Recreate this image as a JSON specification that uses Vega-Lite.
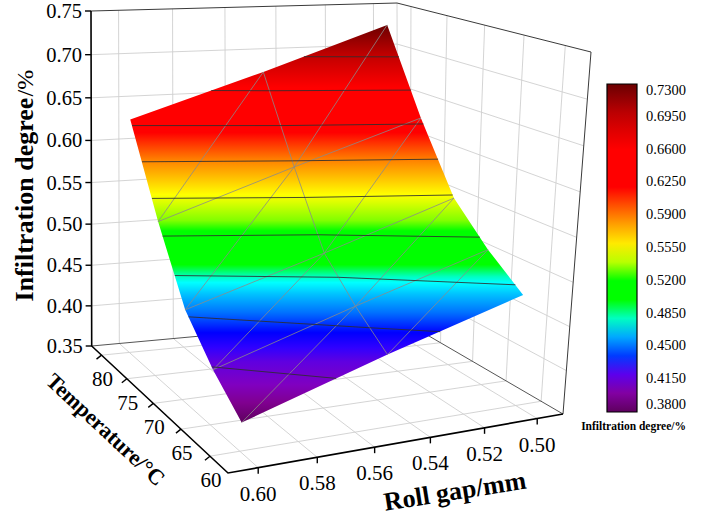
{
  "$schema": "https://vega.github.io/schema/vega-lite/v6.json",
  "width": 706,
  "height": 522,
  "padding": 0,
  "autosize": {"type": "none"},
  "background": "white",
  "config": {
    "font": "Liberation Serif",
    "view": {"stroke": null},
    "text": {"font": "Liberation Serif", "color": "#000"},
    "legend": {"labelFont": "Liberation Serif", "labelFontSize": 14.5, "labelColor": "#000000", "titleFont": "Liberation Serif"}
  },
  "data": {
    "values": [
      {"kind": "surf", "g": 0.6, "t": 60, "z": 0.382},
      {"kind": "surf", "g": 0.6, "t": 65, "z": 0.413},
      {"kind": "surf", "g": 0.6, "t": 70, "z": 0.455},
      {"kind": "surf", "g": 0.6, "t": 75, "z": 0.533},
      {"kind": "surf", "g": 0.6, "t": 80, "z": 0.631},
      {"kind": "surf", "g": 0.55, "t": 60, "z": 0.433},
      {"kind": "surf", "g": 0.55, "t": 65, "z": 0.464},
      {"kind": "surf", "g": 0.55, "t": 70, "z": 0.503},
      {"kind": "surf", "g": 0.55, "t": 75, "z": 0.584},
      {"kind": "surf", "g": 0.55, "t": 80, "z": 0.679},
      {"kind": "surf", "g": 0.5, "t": 60, "z": 0.478},
      {"kind": "surf", "g": 0.5, "t": 65, "z": 0.51},
      {"kind": "surf", "g": 0.5, "t": 70, "z": 0.552},
      {"kind": "surf", "g": 0.5, "t": 75, "z": 0.631},
      {"kind": "surf", "g": 0.5, "t": 80, "z": 0.729},

      {"kind": "cont", "g": 0.534, "t": 80, "z": 0.695},
      {"kind": "cont", "g": 0.5, "t": 78.27, "z": 0.695},
      {"kind": "cont", "g": 0.57, "t": 80, "z": 0.66},
      {"kind": "cont", "g": 0.55, "t": 79.0, "z": 0.66},
      {"kind": "cont", "g": 0.5, "t": 76.48, "z": 0.66},
      {"kind": "cont", "g": 0.6, "t": 79.69, "z": 0.625},
      {"kind": "cont", "g": 0.55, "t": 77.16, "z": 0.625},
      {"kind": "cont", "g": 0.5, "t": 74.62, "z": 0.625},
      {"kind": "cont", "g": 0.6, "t": 77.91, "z": 0.59},
      {"kind": "cont", "g": 0.55, "t": 75.32, "z": 0.59},
      {"kind": "cont", "g": 0.5, "t": 72.41, "z": 0.59},
      {"kind": "cont", "g": 0.6, "t": 76.12, "z": 0.555},
      {"kind": "cont", "g": 0.55, "t": 73.21, "z": 0.555},
      {"kind": "cont", "g": 0.5, "t": 70.19, "z": 0.555},
      {"kind": "cont", "g": 0.6, "t": 74.17, "z": 0.52},
      {"kind": "cont", "g": 0.55, "t": 71.05, "z": 0.52},
      {"kind": "cont", "g": 0.5, "t": 66.19, "z": 0.52},
      {"kind": "cont", "g": 0.6, "t": 71.92, "z": 0.485},
      {"kind": "cont", "g": 0.55, "t": 67.69, "z": 0.485},
      {"kind": "cont", "g": 0.5, "t": 61.09, "z": 0.485},
      {"kind": "cont", "g": 0.6, "t": 69.4, "z": 0.45},
      {"kind": "cont", "g": 0.55, "t": 62.74, "z": 0.45},
      {"kind": "cont", "g": 0.531, "t": 60, "z": 0.45},
      {"kind": "cont", "g": 0.6, "t": 65.24, "z": 0.415},
      {"kind": "cont", "g": 0.568, "t": 60, "z": 0.415},

      {"kind": "grid", "id": "z40", "k": 0, "g": 0.61, "t": 82, "z": 0.4},
      {"kind": "grid", "id": "z40", "k": 1, "g": 0.49, "t": 82, "z": 0.4},
      {"kind": "grid", "id": "z40", "k": 2, "g": 0.49, "t": 57, "z": 0.4},
      {"kind": "grid", "id": "z45", "k": 0, "g": 0.61, "t": 82, "z": 0.45},
      {"kind": "grid", "id": "z45", "k": 1, "g": 0.49, "t": 82, "z": 0.45},
      {"kind": "grid", "id": "z45", "k": 2, "g": 0.49, "t": 57, "z": 0.45},
      {"kind": "grid", "id": "z50", "k": 0, "g": 0.61, "t": 82, "z": 0.5},
      {"kind": "grid", "id": "z50", "k": 1, "g": 0.49, "t": 82, "z": 0.5},
      {"kind": "grid", "id": "z50", "k": 2, "g": 0.49, "t": 57, "z": 0.5},
      {"kind": "grid", "id": "z55", "k": 0, "g": 0.61, "t": 82, "z": 0.55},
      {"kind": "grid", "id": "z55", "k": 1, "g": 0.49, "t": 82, "z": 0.55},
      {"kind": "grid", "id": "z55", "k": 2, "g": 0.49, "t": 57, "z": 0.55},
      {"kind": "grid", "id": "z60", "k": 0, "g": 0.61, "t": 82, "z": 0.6},
      {"kind": "grid", "id": "z60", "k": 1, "g": 0.49, "t": 82, "z": 0.6},
      {"kind": "grid", "id": "z60", "k": 2, "g": 0.49, "t": 57, "z": 0.6},
      {"kind": "grid", "id": "z65", "k": 0, "g": 0.61, "t": 82, "z": 0.65},
      {"kind": "grid", "id": "z65", "k": 1, "g": 0.49, "t": 82, "z": 0.65},
      {"kind": "grid", "id": "z65", "k": 2, "g": 0.49, "t": 57, "z": 0.65},
      {"kind": "grid", "id": "z70", "k": 0, "g": 0.61, "t": 82, "z": 0.7},
      {"kind": "grid", "id": "z70", "k": 1, "g": 0.49, "t": 82, "z": 0.7},
      {"kind": "grid", "id": "z70", "k": 2, "g": 0.49, "t": 57, "z": 0.7},
      {"kind": "grid", "id": "g50", "k": 0, "g": 0.5, "t": 82, "z": 0.75},
      {"kind": "grid", "id": "g50", "k": 1, "g": 0.5, "t": 82, "z": 0.35},
      {"kind": "grid", "id": "g50", "k": 2, "g": 0.5, "t": 57, "z": 0.35},
      {"kind": "grid", "id": "g52", "k": 0, "g": 0.52, "t": 82, "z": 0.75},
      {"kind": "grid", "id": "g52", "k": 1, "g": 0.52, "t": 82, "z": 0.35},
      {"kind": "grid", "id": "g52", "k": 2, "g": 0.52, "t": 57, "z": 0.35},
      {"kind": "grid", "id": "g54", "k": 0, "g": 0.54, "t": 82, "z": 0.75},
      {"kind": "grid", "id": "g54", "k": 1, "g": 0.54, "t": 82, "z": 0.35},
      {"kind": "grid", "id": "g54", "k": 2, "g": 0.54, "t": 57, "z": 0.35},
      {"kind": "grid", "id": "g56", "k": 0, "g": 0.56, "t": 82, "z": 0.75},
      {"kind": "grid", "id": "g56", "k": 1, "g": 0.56, "t": 82, "z": 0.35},
      {"kind": "grid", "id": "g56", "k": 2, "g": 0.56, "t": 57, "z": 0.35},
      {"kind": "grid", "id": "g58", "k": 0, "g": 0.58, "t": 82, "z": 0.75},
      {"kind": "grid", "id": "g58", "k": 1, "g": 0.58, "t": 82, "z": 0.35},
      {"kind": "grid", "id": "g58", "k": 2, "g": 0.58, "t": 57, "z": 0.35},
      {"kind": "grid", "id": "g60", "k": 0, "g": 0.6, "t": 82, "z": 0.75},
      {"kind": "grid", "id": "g60", "k": 1, "g": 0.6, "t": 82, "z": 0.35},
      {"kind": "grid", "id": "g60", "k": 2, "g": 0.6, "t": 57, "z": 0.35},
      {"kind": "grid", "id": "t60", "k": 0, "g": 0.49, "t": 60, "z": 0.75},
      {"kind": "grid", "id": "t60", "k": 1, "g": 0.49, "t": 60, "z": 0.35},
      {"kind": "grid", "id": "t60", "k": 2, "g": 0.61, "t": 60, "z": 0.35},
      {"kind": "grid", "id": "t65", "k": 0, "g": 0.49, "t": 65, "z": 0.75},
      {"kind": "grid", "id": "t65", "k": 1, "g": 0.49, "t": 65, "z": 0.35},
      {"kind": "grid", "id": "t65", "k": 2, "g": 0.61, "t": 65, "z": 0.35},
      {"kind": "grid", "id": "t70", "k": 0, "g": 0.49, "t": 70, "z": 0.75},
      {"kind": "grid", "id": "t70", "k": 1, "g": 0.49, "t": 70, "z": 0.35},
      {"kind": "grid", "id": "t70", "k": 2, "g": 0.61, "t": 70, "z": 0.35},
      {"kind": "grid", "id": "t75", "k": 0, "g": 0.49, "t": 75, "z": 0.75},
      {"kind": "grid", "id": "t75", "k": 1, "g": 0.49, "t": 75, "z": 0.35},
      {"kind": "grid", "id": "t75", "k": 2, "g": 0.61, "t": 75, "z": 0.35},
      {"kind": "grid", "id": "t80", "k": 0, "g": 0.49, "t": 80, "z": 0.75},
      {"kind": "grid", "id": "t80", "k": 1, "g": 0.49, "t": 80, "z": 0.35},
      {"kind": "grid", "id": "t80", "k": 2, "g": 0.61, "t": 80, "z": 0.35},
      {"kind": "grid", "id": "back", "k": 0, "g": 0.49, "t": 82, "z": 0.35},
      {"kind": "grid", "id": "back", "k": 1, "g": 0.49, "t": 82, "z": 0.75},

      {"kind": "edge", "id": "frame", "k": 0, "g": 0.61, "t": 82, "z": 0.75},
      {"kind": "edge", "id": "frame", "k": 1, "g": 0.49, "t": 82, "z": 0.75},
      {"kind": "edge", "id": "frame", "k": 2, "g": 0.49, "t": 57, "z": 0.75},
      {"kind": "edge", "id": "frame", "k": 3, "g": 0.49, "t": 57, "z": 0.35},
      {"kind": "edge", "id": "wall", "k": 0, "g": 0.61, "t": 82, "z": 0.35},
      {"kind": "edge", "id": "wall", "k": 1, "g": 0.49, "t": 82, "z": 0.35},
      {"kind": "edge", "id": "wall", "k": 2, "g": 0.49, "t": 57, "z": 0.35},
      {"kind": "edge", "id": "axis", "k": 0, "g": 0.61, "t": 82, "z": 0.75},
      {"kind": "edge", "id": "axis", "k": 1, "g": 0.61, "t": 82, "z": 0.35},
      {"kind": "edge", "id": "axis", "k": 2, "g": 0.61, "t": 57, "z": 0.35},
      {"kind": "edge", "id": "axis", "k": 3, "g": 0.49, "t": 57, "z": 0.35},

      {"kind": "zt", "g": 0.61, "t": 82, "z": 0.35},
      {"kind": "zt", "g": 0.61, "t": 82, "z": 0.4},
      {"kind": "zt", "g": 0.61, "t": 82, "z": 0.45},
      {"kind": "zt", "g": 0.61, "t": 82, "z": 0.5},
      {"kind": "zt", "g": 0.61, "t": 82, "z": 0.55},
      {"kind": "zt", "g": 0.61, "t": 82, "z": 0.6},
      {"kind": "zt", "g": 0.61, "t": 82, "z": 0.65},
      {"kind": "zt", "g": 0.61, "t": 82, "z": 0.7},
      {"kind": "zt", "g": 0.61, "t": 82, "z": 0.75},
      {"kind": "gt", "g": 0.6, "t": 57, "z": 0.35},
      {"kind": "gt", "g": 0.58, "t": 57, "z": 0.35},
      {"kind": "gt", "g": 0.56, "t": 57, "z": 0.35},
      {"kind": "gt", "g": 0.54, "t": 57, "z": 0.35},
      {"kind": "gt", "g": 0.52, "t": 57, "z": 0.35},
      {"kind": "gt", "g": 0.5, "t": 57, "z": 0.35},
      {"kind": "tt", "g": 0.61, "t": 60, "z": 0.35},
      {"kind": "tt", "g": 0.61, "t": 65, "z": 0.35},
      {"kind": "tt", "g": 0.61, "t": 70, "z": 0.35},
      {"kind": "tt", "g": 0.61, "t": 75, "z": 0.35},
      {"kind": "tt", "g": 0.61, "t": 80, "z": 0.35},

      {"kind": "title", "id": "z", "label": "Infiltration degree", "g": 0.61, "t": 82, "z": 0.55},
      {"kind": "title", "id": "zu", "label": "/%", "g": 0.61, "t": 82, "z": 0.55},
      {"kind": "title", "id": "t", "label": "Temperature/°C", "g": 0.61, "t": 70, "z": 0.35},
      {"kind": "title", "id": "g", "label": "Roll gap/mm", "g": 0.53, "t": 57, "z": 0.35}
    ]
  },
  "transform": [
    {"calculate": "(0.61 - datum.g) / 0.12", "as": "u"},
    {"calculate": "1.09 * datum.u / (1 + 0.09 * datum.u)", "as": "up"},
    {"calculate": "(datum.t - 57) / 25", "as": "v"},
    {"calculate": "1.12 * datum.v / (1 + 0.12 * datum.v)", "as": "vp"},
    {"calculate": "(datum.z - 0.35) / 0.4", "as": "w"},
    {"calculate": "0.953 * datum.w / (1 - 0.047 * datum.w)", "as": "wp"},
    {"calculate": "228 + 335 * datum.up - 136.3 * datum.vp - 28.7 * datum.up * datum.vp", "as": "fx"},
    {"calculate": "473 - 59 * datum.up - 127 * datum.vp + 31 * datum.up * datum.vp", "as": "fy"},
    {"calculate": "256 + 335 * datum.up - 165 * datum.vp - 29 * datum.up * datum.vp", "as": "tx"},
    {"calculate": "91 - 39 * datum.up - 80 * datum.vp + 31 * datum.up * datum.vp", "as": "ty"},
    {"calculate": "datum.fx + datum.wp * (datum.tx - datum.fx)", "as": "px"},
    {"calculate": "datum.fy + datum.wp * (datum.ty - datum.fy)", "as": "py"}
  ],
  "encoding": {
    "x": {"field": "px", "type": "quantitative", "scale": {"domain": [0, 706], "nice": false, "zero": false}, "axis": null},
    "y": {"field": "py", "type": "quantitative", "scale": {"domain": [0, 522], "nice": false, "zero": false, "reverse": true}, "axis": null}
  },
  "layer": [
    {
      "transform": [{"filter": "datum.kind == 'grid'"}],
      "mark": {"type": "line", "color": "#cfcfcf", "strokeWidth": 0.9},
      "encoding": {"detail": {"field": "id"}, "order": {"field": "k", "type": "quantitative"}}
    },
    {
      "transform": [{"filter": "datum.kind == 'edge' && datum.id == 'wall'"}],
      "mark": {"type": "line", "color": "#555555", "strokeWidth": 1},
      "encoding": {"order": {"field": "k", "type": "quantitative"}}
    },
    {
      "transform": [{"filter": "datum.kind == 'edge' && datum.id == 'frame'"}],
      "mark": {"type": "line", "color": "#3a3a3a", "strokeWidth": 1},
      "encoding": {"order": {"field": "k", "type": "quantitative"}}
    },
    {
      "transform": [
        {"filter": "datum.kind == 'surf' && (datum.g != 0.55 || datum.t == 60 || datum.t == 80)"},
        {"calculate": "datum.g == 0.6 ? (datum.t - 60) / 5 : datum.t == 80 ? 5 : datum.g == 0.5 ? 6 + (80 - datum.t) / 5 : 11", "as": "ord"}
      ],
      "mark": {
        "type": "line",
        "strokeWidth": 0,
        "strokeOpacity": 0,
        "fill": {
          "gradient": "linear", "x1": 0, "y1": 0, "x2": 0, "y2": 1,
          "stops": [
            {"offset": 0, "color": "#6b0000"},
            {"offset": 0.075, "color": "#c00000"},
            {"offset": 0.158, "color": "#ff0000"},
            {"offset": 0.271, "color": "#ff0000"},
            {"offset": 0.296, "color": "#ff3000"},
            {"offset": 0.339, "color": "#ff8000"},
            {"offset": 0.384, "color": "#ffc000"},
            {"offset": 0.427, "color": "#ffff00"},
            {"offset": 0.452, "color": "#d0ff00"},
            {"offset": 0.492, "color": "#80ff00"},
            {"offset": 0.518, "color": "#00ff00"},
            {"offset": 0.603, "color": "#00ff00"},
            {"offset": 0.633, "color": "#00ffc0"},
            {"offset": 0.648, "color": "#00ffff"},
            {"offset": 0.678, "color": "#00c0ff"},
            {"offset": 0.724, "color": "#0070ff"},
            {"offset": 0.774, "color": "#0000ff"},
            {"offset": 0.812, "color": "#3000ff"},
            {"offset": 0.847, "color": "#6000e0"},
            {"offset": 0.905, "color": "#8000c0"},
            {"offset": 0.95, "color": "#800090"},
            {"offset": 1, "color": "#5e005e"}
          ]
        }
      },
      "encoding": {"order": {"field": "ord", "type": "quantitative"}}
    },
    {
      "transform": [{"filter": "datum.kind == 'surf' && datum.g == 0.55"}],
      "mark": {"type": "line", "color": "#8a8a8a", "strokeWidth": 0.8},
      "encoding": {"order": {"field": "t", "type": "quantitative"}}
    },
    {
      "transform": [{"filter": "datum.kind == 'surf' && datum.t > 60 && datum.t < 80"}],
      "mark": {"type": "line", "color": "#8a8a8a", "strokeWidth": 0.8},
      "encoding": {"detail": {"field": "t", "type": "nominal"}, "order": {"field": "g", "type": "quantitative"}}
    },
    {
      "transform": [
        {"filter": "datum.kind == 'surf'"},
        {"calculate": "round((datum.t - 60) / 5 - (0.6 - datum.g) / 0.05)", "as": "diag"}
      ],
      "mark": {"type": "line", "color": "#8a8a8a", "strokeWidth": 0.8},
      "encoding": {"detail": {"field": "diag", "type": "nominal"}, "order": {"field": "g", "type": "quantitative"}}
    },
    {
      "transform": [{"filter": "datum.kind == 'cont'"}],
      "mark": {"type": "line", "color": "#2e2e2e", "strokeWidth": 1, "opacity": 0.85},
      "encoding": {"detail": {"field": "z", "type": "nominal"}, "order": {"field": "g", "type": "quantitative", "sort": "descending"}}
    },
    {
      "transform": [{"filter": "datum.kind == 'edge' && datum.id == 'axis'"}],
      "mark": {"type": "line", "color": "#000000", "strokeWidth": 1.6},
      "encoding": {"order": {"field": "k", "type": "quantitative"}}
    },
    {
      "transform": [{"filter": "datum.kind == 'zt'"}],
      "mark": {"type": "rule", "color": "#000000", "strokeWidth": 1.4, "x2Offset": -6},
      "encoding": {"x2": {"field": "px"}, "y2": {"field": "py"}}
    },
    {
      "transform": [{"filter": "datum.kind == 'gt'"}],
      "mark": {"type": "rule", "color": "#000000", "strokeWidth": 1.4, "y2Offset": 6},
      "encoding": {"x2": {"field": "px"}, "y2": {"field": "py"}}
    },
    {
      "transform": [{"filter": "datum.kind == 'tt'"}],
      "mark": {"type": "rule", "color": "#000000", "strokeWidth": 1.4, "x2Offset": -5, "y2Offset": 4},
      "encoding": {"x2": {"field": "px"}, "y2": {"field": "py"}}
    },
    {
      "transform": [{"filter": "datum.kind == 'zt'"}],
      "mark": {"type": "text", "font": "Liberation Serif", "align": "right", "baseline": "middle", "dx": -9, "dy": 1, "fontSize": 20.5},
      "encoding": {"text": {"field": "z", "type": "quantitative", "format": ".2f"}}
    },
    {
      "transform": [{"filter": "datum.kind == 'gt'"}],
      "mark": {"type": "text", "font": "Liberation Serif", "align": "center", "baseline": "middle", "dy": 27, "fontSize": 21},
      "encoding": {"text": {"field": "g", "type": "quantitative", "format": ".2f"}}
    },
    {
      "transform": [{"filter": "datum.kind == 'tt'"}],
      "mark": {"type": "text", "font": "Liberation Serif", "align": "center", "baseline": "middle", "dx": 1, "dy": 25, "fontSize": 21},
      "encoding": {"text": {"field": "t", "type": "quantitative", "format": "d"}}
    },
    {
      "transform": [{"filter": "datum.kind == 'title' && datum.id == 'z'"}],
      "mark": {"type": "text", "font": "Liberation Serif", "align": "center", "baseline": "alphabetic", "angle": -90, "dx": -17, "dy": -58, "fontSize": 26, "fontWeight": "bold"},
      "encoding": {"text": {"field": "label"}}
    },
    {
      "transform": [{"filter": "datum.kind == 'title' && datum.id == 'zu'"}],
      "mark": {"type": "text", "font": "Liberation Serif", "align": "left", "baseline": "alphabetic", "angle": -90, "dx": 86, "dy": -58, "fontSize": 24},
      "encoding": {"text": {"field": "label"}}
    },
    {
      "transform": [{"filter": "datum.kind == 'title' && datum.id == 't'"}],
      "mark": {"type": "text", "font": "Liberation Serif", "align": "center", "baseline": "middle", "angle": 43, "dx": -17, "dy": 52, "fontSize": 22, "fontWeight": "bold"},
      "encoding": {"text": {"field": "label"}}
    },
    {
      "transform": [{"filter": "datum.kind == 'title' && datum.id == 'g'"}],
      "mark": {"type": "text", "font": "Liberation Serif", "align": "center", "baseline": "middle", "angle": -9, "dx": -12, "dy": 58, "fontSize": 26, "fontWeight": "bold"},
      "encoding": {"text": {"field": "label"}}
    },
    {
      "transform": [{"filter": "datum.kind == 'surf'"}],
      "mark": {"type": "point", "opacity": 0},
      "encoding": {
        "color": {
          "field": "z",
          "type": "quantitative",
          "scale": {
            "domain": [0.38, 0.395, 0.41, 0.425, 0.435, 0.45, 0.465, 0.475, 0.48, 0.49, 0.52, 0.53, 0.545, 0.555, 0.57, 0.59, 0.605, 0.615, 0.66, 0.695, 0.73],
            "range": ["#5e005e", "#800090", "#8000c8", "#3000ff", "#0000ff", "#0070ff", "#00c0ff", "#00ffff", "#00ffc0", "#00ff00", "#00ff00", "#80ff00", "#d0ff00", "#ffff00", "#ffc000", "#ff8000", "#ff3000", "#ff0000", "#ff0000", "#c80000", "#6b0000"]
          },
          "legend": {
            "orient": "none",
            "legendX": 581,
            "legendY": 84,
            "direction": "vertical",
            "gradientLength": 328,
            "gradientThickness": 30,
            "gradientStrokeColor": "#000000",
            "gradientStrokeWidth": 1.2,
            "values": [0.38, 0.415, 0.45, 0.485, 0.52, 0.555, 0.59, 0.625, 0.66, 0.695, 0.73],
            "format": ".4f",
            "labelFont": "Liberation Serif",
            "labelFontSize": 14.5,
            "labelColor": "#000000",
            "labelOffset": 9,
            "labelOverlap": false,
            "title": "Infiltration degree/%",
            "titleOrient": "bottom",
            "titleAnchor": "end",
            "titleFont": "Liberation Serif",
            "titleFontSize": 11.5,
            "titleFontWeight": "bold",
            "titleColor": "#000000",
            "titlePadding": 8
          }
        }
      }
    }
  ]
}
